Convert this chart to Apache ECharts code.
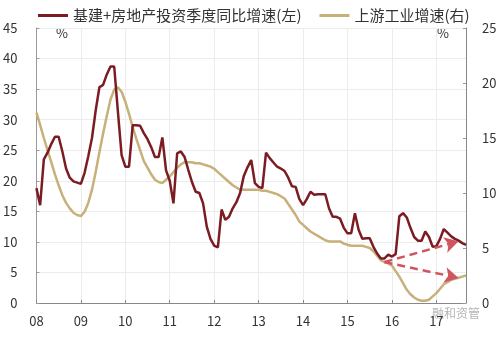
<!DOCTYPE html>
<html>
<head>
<meta charset="utf-8">
<script src="https://cdn.jsdelivr.net/npm/echarts@6/dist/echarts.min.js"></script>
<style>
  html, body { margin: 0; padding: 0; background: #fff; }
  #chart { width: 500px; height: 338px; }
</style>
</head>
<body>
<div id="chart"></div>
<script>
  // 月度数据 2008-01 ~ 2017-09
  const months = []
  for (let y = 2008; y <= 2017; y++) {
    for (let m = 1; m <= 12; m++) {
      if (y === 2017 && m > 9) break
      months.push(y + '-' + (m < 10 ? '0' + m : m))
    }
  }

  // 基建+房地产投资季度同比增速(左)
  const investGrowth = [
    18.8, 16.0, 23.5, 24.6, 26.0, 27.2, 27.2, 24.8, 22.0, 20.5, 19.9, 19.7,
    19.5, 21.3, 24.0, 27.0, 31.5, 35.3, 35.7, 37.4, 38.7, 38.7, 31.3, 24.2,
    22.3, 22.3, 29.1, 29.1, 29.0, 27.8, 26.8, 25.5, 23.9, 23.9, 27.1, 21.7,
    20.0, 16.3, 24.5, 24.8, 23.9, 21.8, 19.8, 18.2, 18.0, 16.3, 12.5, 10.5,
    9.4, 9.1, 15.3, 13.6, 14.1, 15.5, 16.5, 18.0, 20.8, 22.2, 23.4, 19.6,
    19.0, 18.8, 24.6, 23.7, 23.0, 22.3, 22.0, 21.6, 20.5, 19.1, 19.0, 17.0,
    16.0, 17.0, 18.2, 17.7, 17.8, 17.8, 17.8, 15.5, 14.1, 14.1, 13.8, 12.3,
    11.4, 11.4, 14.7, 12.0, 10.5, 10.6, 10.6, 9.2, 8.1, 7.3, 7.3, 7.9,
    7.6, 8.0, 14.2, 14.7, 14.0, 12.3, 10.8, 10.2, 10.2, 11.7, 10.8, 9.2,
    9.3, 10.5, 12.1, 11.5, 10.9, 10.5, 10.2, 9.8, 9.5
  ]

  // 上游工业增速(右)
  const upstreamGrowth = [
    17.3, 16.2, 15.0, 13.9, 12.8, 11.7, 10.7, 9.8, 9.1, 8.6, 8.2, 8.0,
    7.9, 8.3, 9.1, 10.3, 11.9, 13.7, 15.4, 17.0, 18.5, 19.4, 19.6, 19.2,
    18.3, 17.2, 16.0, 14.9, 13.9, 12.9, 12.3, 11.7, 11.2, 11.0, 10.9, 11.2,
    11.5, 11.9, 12.3, 12.6, 12.8, 12.8, 12.8, 12.7, 12.7, 12.6, 12.5, 12.4,
    12.2, 11.9, 11.6, 11.3, 11.0, 10.7, 10.5, 10.3, 10.3, 10.3, 10.3, 10.3,
    10.3, 10.2, 10.2, 10.1, 10.0, 9.9, 9.7, 9.5, 9.0, 8.5, 8.0, 7.4,
    7.1, 6.8, 6.5, 6.3, 6.1, 5.9, 5.7, 5.6, 5.6, 5.6, 5.6, 5.4,
    5.3, 5.2, 5.2, 5.2, 5.2, 5.1, 5.0, 4.7, 4.3, 3.9, 3.7, 3.6,
    3.4, 2.9, 2.4, 1.8, 1.2, 0.8, 0.5, 0.3, 0.2, 0.2, 0.3, 0.6,
    0.9, 1.3, 1.7, 1.9, 2.1, 2.2, 2.3, 2.4, 2.5
  ]

  // 虚线箭头 (月份序号, 左轴数值)
  const arrowStart = [94, 6.7]
  const arrowEnds = [[114, 10.1], [114, 4.1]]

  const leftTicks = [0, 45, 5]
  const rightTicks = [0, 25, 5]

  const yearTick = (i) => i % 12 === 0
  const labelStyle = { color: '#333', fontSize: 13, fontFamily: 'Noto Sans CJK SC' }

  const chart = echarts.init(document.getElementById('chart'))
  chart.setOption({
    animation: false,
    backgroundColor: '#fff',
    textStyle: { fontFamily: 'Noto Sans CJK SC' },
    legend: {
      left: 33,
      top: 3,
      icon: 'rect',
      itemWidth: 30,
      itemHeight: 3,
      itemGap: 18,
      textStyle: { color: '#333', fontSize: 15, fontFamily: 'Noto Sans CJK SC' },
      data: ['基建+房地产投资季度同比增速(左)', '上游工业增速(右)']
    },
    grid: { left: 36, right: 34, top: 28, bottom: 35 },
    xAxis: {
      type: 'category',
      boundaryGap: false,
      data: months,
      axisLine: { lineStyle: { color: '#888' } },
      axisTick: { interval: yearTick, inside: true, length: 3, lineStyle: { color: '#888' } },
      splitLine: { show: true, interval: yearTick, lineStyle: { color: '#ececec' } },
      axisLabel: Object.assign({ interval: yearTick, margin: 12, formatter: v => v.slice(2, 4) }, labelStyle)
    },
    yAxis: [
      {
        type: 'value',
        min: leftTicks[0], max: leftTicks[1], interval: leftTicks[2],
        axisLine: { show: true, lineStyle: { color: '#999' } },
        axisTick: { show: true, inside: true, length: 3, lineStyle: { color: '#999' } },
        splitLine: { lineStyle: { color: '#ececec' } },
        axisLabel: Object.assign({ margin: 19 }, labelStyle)
      },
      {
        type: 'value',
        min: rightTicks[0], max: rightTicks[1], interval: rightTicks[2],
        axisLine: { show: true, lineStyle: { color: '#888' } },
        axisTick: { show: true, inside: true, length: 3, lineStyle: { color: '#999' } },
        splitLine: { show: false },
        axisLabel: Object.assign({ margin: 16 }, labelStyle)
      }
    ],
    graphic: [
      { type: 'text', left: 56, top: 27, style: { text: '%', fontSize: 13, fill: '#333', fontFamily: 'Noto Sans CJK SC' } },
      { type: 'text', left: 437, top: 27, style: { text: '%', fontSize: 13, fill: '#333', fontFamily: 'Noto Sans CJK SC' } },
      { type: 'text', left: 432, top: 307, style: { text: '融和资管', fontSize: 12, fill: '#b5b5b5', fontFamily: 'Noto Sans CJK SC' } }
    ],
    series: [
      {
        name: '基建+房地产投资季度同比增速(左)',
        type: 'line',
        yAxisIndex: 0,
        data: investGrowth,
        symbol: 'none',
        z: 3,
        lineStyle: { color: '#7b1c22', width: 2.5 },
        itemStyle: { color: '#7b1c22' },
        markLine: {
          silent: true,
          symbol: ['none', 'arrow'],
          symbolSize: [12, 14],
          label: { show: false },
          lineStyle: { color: '#cf5561', width: 2.5, type: [8, 5] },
          data: arrowEnds.map(e => [{ coord: arrowStart }, { coord: e }])
        }
      },
      {
        name: '上游工业增速(右)',
        type: 'line',
        yAxisIndex: 1,
        data: upstreamGrowth,
        symbol: 'none',
        z: 2,
        lineStyle: { color: '#c7b07a', width: 2.5 },
        itemStyle: { color: '#c7b07a' }
      }
    ]
  })
</script>
</body>
</html>
